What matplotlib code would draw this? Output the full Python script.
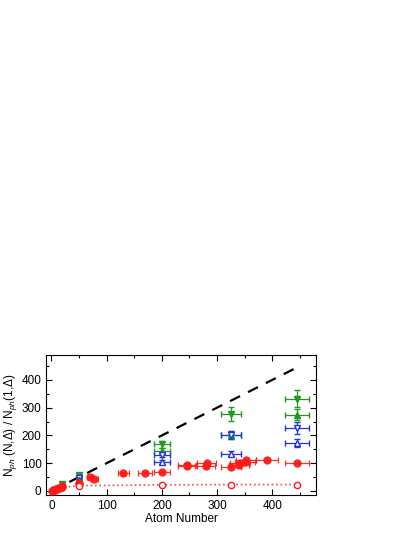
import matplotlib
matplotlib.use('Agg')
import matplotlib.pyplot as plt
from matplotlib.ticker import MultipleLocator

plt.rcParams['font.family'] = 'Liberation Sans'
plt.rcParams['mathtext.fontset'] = 'custom'
plt.rcParams['mathtext.rm'] = 'Liberation Sans'
plt.rcParams['mathtext.it'] = 'Liberation Sans:italic'

# linea guida N
ref_x = [0, 445]
ref_y = [0, 445]

# punti rossi pieni
red_x = [1, 2, 4, 6, 8, 10, 12, 15, 20, 20, 50, 50, 70, 78, 130, 170, 200, 245, 246, 280, 281, 325, 340, 342, 350, 352, 390, 445]
red_y = [0, 2, 3, 5, 6, 8, 9, 11, 13, 17, 25, 30, 50, 42, 63, 65, 68, 91, 94, 89, 99, 85, 95, 101, 106, 110, 113, 101]
red_xerr = [0, 0, 0, 0, 1, 1, 1, 1, 2, 2, 3, 3, 6, 6, 10, 13, 14, 16, 16, 17, 17, 18, 18, 18, 18, 18, 20, 22]
red_yerr = [1, 1, 1, 1, 1, 1, 1, 1, 2, 2, 3, 3, 4, 4, 4, 4, 4, 5, 5, 5, 5, 5, 5, 5, 5, 5, 5, 5]

# punti rossi vuoti + linea tratteggiata
open_x = [50, 200, 325, 445]
open_y = [18, 22, 23, 23]
curve_x = [0, 5, 10, 20, 35, 50, 100, 200, 325, 445]
curve_y = [0, 4, 7, 12, 16, 19, 20, 22, 23, 23]

# verdi
gdown_x = [20, 50, 200, 325, 445]
gdown_y = [25, 56, 168, 277, 332]
gdown_yerr = [3, 5, 12, 25, 30]
gup_x = [50, 200, 325, 445]
gup_y = [50, 145, 202, 274]
gup_yerr = [4, 10, 14, 20]

# blu
bdown_x = [5, 50, 200, 325, 445]
bdown_y = [5, 45, 131, 202, 226]
bdown_yerr = [1, 4, 10, 15, 22]
bup_x = [3, 50, 200, 325, 445]
bup_y = [3, 40, 104, 134, 172]
bup_yerr = [1, 4, 8, 9, 14]

xerr_big = {20: 2, 50: 3, 5: 0, 3: 0, 200: 14, 325: 18, 445: 22}

fig = plt.figure(figsize=(4.15, 5.37), dpi=100)
ax = fig.add_axes([0.112, 0.078, 0.649, 0.261])

green = '#1f9a1f'
blue = '#2233dd'
red = '#ff1a1a'

ax.plot(ref_x, ref_y, color='black', ls=(0, (5, 4)), lw=1.6, zorder=1)
ax.plot(curve_x, curve_y, color=red, ls=':', lw=1.2, alpha=0.8, zorder=2)

def serie(x, y, yerr, marker, color, filled):
    xe = [xerr_big.get(v, 0) for v in x]
    ax.errorbar(x, y, xerr=xe, yerr=yerr, fmt=marker, color=color, ms=5,
                mfc=color if filled else 'white', mec=color, mew=1.0,
                elinewidth=0.9, capsize=2, capthick=0.9, ecolor=color, zorder=4)

serie(gdown_x, gdown_y, gdown_yerr, 'v', green, True)
serie(gup_x, gup_y, gup_yerr, '^', green, True)
serie(bdown_x, bdown_y, bdown_yerr, 'v', blue, False)
serie(bup_x, bup_y, bup_yerr, '^', blue, False)

ax.errorbar(red_x, red_y, xerr=red_xerr, yerr=red_yerr, fmt='o', color=red, ms=5,
            mfc=red, mec=red, elinewidth=0.9, capsize=2, capthick=0.9,
            ecolor=red, alpha=0.9, zorder=5)
ax.errorbar(open_x, open_y, xerr=None, fmt='o', color=red, ms=4.5, mfc='white',
            mec=red, mew=1.0, zorder=6)

ax.set_xlim(-9, 479)
ax.set_ylim(-15, 490)
ax.xaxis.set_major_locator(MultipleLocator(100))
ax.xaxis.set_minor_locator(MultipleLocator(50))
ax.yaxis.set_major_locator(MultipleLocator(100))
ax.yaxis.set_minor_locator(MultipleLocator(50))
ax.tick_params(which='both', direction='in', top=True, right=True, labelsize=8.5, width=0.8)
ax.tick_params(which='major', length=4)
ax.tick_params(which='minor', length=2.5)
for s in ax.spines.values():
    s.set_linewidth(0.8)

ax.set_xlabel('Atom Number', fontsize=8.5, labelpad=1)
ax.set_ylabel(r'N$_{ph}$ (N,$\Delta$) / N$_{ph}$(1,$\Delta$)', fontsize=8.5, labelpad=2)

fig.savefig('out.png', dpi=100)
